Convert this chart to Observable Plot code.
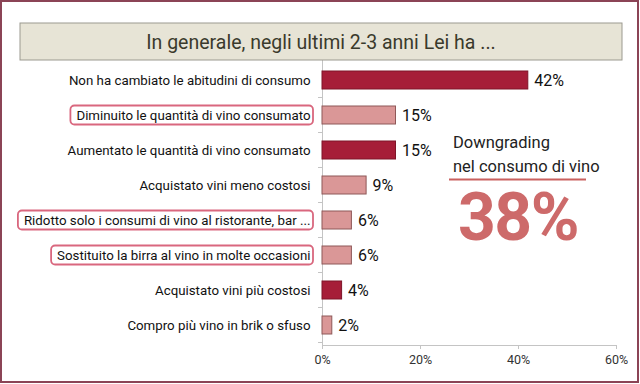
<!DOCTYPE html>
<html>
<head>
<meta charset="utf-8">
<script src="https://cdn.jsdelivr.net/npm/d3@7"></script>
<script src="https://cdn.jsdelivr.net/npm/@observablehq/plot@0.6"></script>
<style>
  html, body { margin: 0; padding: 0; background: #fff; }
  #chart svg { display: block; }
</style>
</head>
<body>
<div id="chart"></div>
<script>
const categories = [
  "Non ha cambiato le abitudini di consumo",
  "Diminuito le quantità di vino consumato",
  "Aumentato le quantità di vino consumato",
  "Acquistato vini meno costosi",
  "Ridotto solo i consumi di vino al ristorante, bar ...",
  "Sostituito la birra al vino in molte occasioni",
  "Acquistato vini più costosi",
  "Compro più vino in brik o sfuso"
];
const values = [42, 15, 15, 9, 6, 6, 4, 2];
const tones = ["dark", "light", "dark", "light", "light", "light", "dark", "light"];
const highlighted = [false, true, false, false, true, true, false, false];
const xTicks = [0, 20, 40, 60];
const titleText = "In generale, negli ultimi 2-3 anni Lei ha ...";
const noteLines = ["Downgrading", "nel consumo di vino"];
const noteValue = "38%";

const data = categories.map((c, i) => ({cat: c, value: values[i], tone: tones[i], hl: highlighted[i]}));
const FONT = "Roboto, 'DejaVu Sans', sans-serif";

const plot = Plot.plot({
  width: 640,
  height: 384,
  marginLeft: 322,
  marginRight: 24,
  marginTop: 59,
  marginBottom: 39,
  style: {fontFamily: FONT, background: "transparent", color: "#222"},
  x: {domain: [0, 60]},
  y: {domain: categories, paddingInner: 0.5, paddingOuter: 0.25},
  marks: [
    Plot.frame({anchor: "left", stroke: "#c4c4c4"}),
    Plot.frame({anchor: "bottom", stroke: "#c4c4c4"}),
    Plot.barX(data, {
      x: "value", y: "cat",
      fill: d => d.tone === "dark" ? "#A61D38" : "#DA9797",
      stroke: d => d.tone === "dark" ? "#7E1529" : "#8E5858",
      strokeWidth: 1
    }),
    Plot.text(data, {
      x: "value", y: "cat", text: d => d.value + "%",
      dx: 6, textAnchor: "start", fontSize: 16, fill: "#111"
    }),
    Plot.axisX({ticks: xTicks, tickSize: 4, tickPadding: 6, stroke: "#c4c4c4",
      tickFormat: d => d + "%", fontSize: 12.5, fill: "#333", label: null}),
    Plot.axisY({tickSize: 0, tickPadding: 12, fontSize: 13.3, fill: "#111", label: null})
  ]
});

document.getElementById("chart").appendChild(plot);

const svg = d3.select(plot);
const y = plot.scale("y");
const x = plot.scale("x");
const step = y.step, bw = y.bandwidth;
const x0 = x.apply(0);

// category separator ticks on the y axis
const sep = svg.append("g").attr("stroke", "#c4c4c4");
categories.forEach(c => {
  const yb = y.apply(c) + bw + (step - bw) / 2;
  sep.append("line").attr("x1", x0 - 4).attr("x2", x0).attr("y1", yb).attr("y2", yb);
});

// highlight boxes around labels
const labels = svg.selectAll("g[aria-label='y-axis tick label'] text").nodes();
labels.forEach((node, i) => {
  const d = data[i];
  if (!d || !d.hl) return;
  const bb = node.getBBox();
  const ctm = node.getCTM();
  const cy = y.apply(d.cat) + bw / 2;
  const left = bb.x + (ctm ? ctm.e : 0) - 6;
  const right = x0 - 9;
  svg.append("rect")
    .attr("x", left).attr("y", cy - 9.5)
    .attr("width", right - left).attr("height", 19)
    .attr("rx", 4).attr("fill", "none")
    .attr("stroke", "#D9677E").attr("stroke-width", 1.8);
});

// title box
svg.append("rect").attr("x", 20).attr("y", 23).attr("width", 602).attr("height", 37)
  .attr("fill", "#E7E4D6").attr("stroke", "#9b9a90").attr("stroke-width", 1);
svg.append("text").attr("x", 321).attr("y", 48.5).attr("text-anchor", "middle")
  .attr("font-family", FONT).attr("font-size", 19.5).attr("fill", "#3a3a2c")
  .text(titleText);

// annotation
const note = svg.append("g").attr("font-family", FONT).attr("text-anchor", "start");
note.append("text").attr("x", 453).attr("y", 148).attr("font-size", 16.5).attr("fill", "#222").text(noteLines[0]);
note.append("text").attr("x", 453).attr("y", 172).attr("font-size", 16.5).attr("fill", "#222").text(noteLines[1]);
note.append("line").attr("x1", 449).attr("x2", 586).attr("y1", 179.5).attr("y2", 179.5)
  .attr("stroke", "#C9615F").attr("stroke-width", 2);
note.append("text").attr("x", 518).attr("y", 240).attr("text-anchor", "middle")
  .attr("font-size", 66).attr("font-weight", "bold").attr("letter-spacing", -1.5)
  .attr("fill", "#CD6A6A").text(noteValue);

// outer border
svg.append("rect").attr("x", 1).attr("y", 1).attr("width", 637).attr("height", 381)
  .attr("fill", "none").attr("stroke", "#8B4456").attr("stroke-width", 2);
</script>
</body>
</html>
